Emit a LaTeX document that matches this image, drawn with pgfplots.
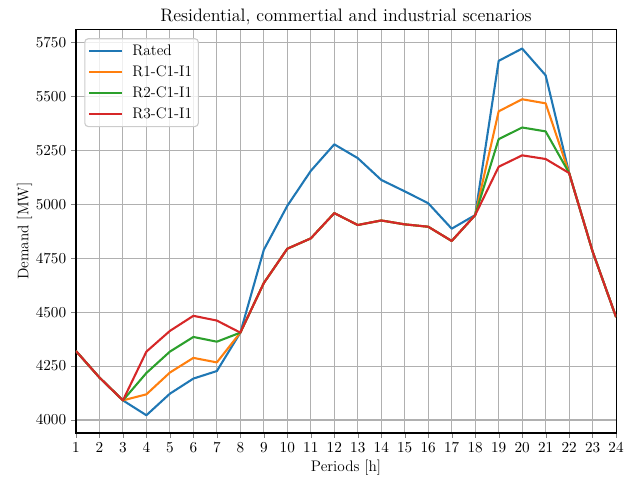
\documentclass[border=0pt]{standalone}
\usepackage{pgfplots}
\pgfplotsset{compat=1.18}
\usetikzlibrary{calc}
\definecolor{tabblue}{HTML}{1F77B4}
\definecolor{taborange}{HTML}{FF7F0E}
\definecolor{tabgreen}{HTML}{2CA02C}
\definecolor{tabred}{HTML}{D62728}
\begin{document}
\begin{tikzpicture}
\begin{axis}[
  name=main,
  scale only axis,
  width=389pt, height=290.5pt,
  xmin=1, xmax=24, ymin=3940, ymax=5810,
  xtick={1,...,24},
  ytick={4000,4250,4500,4750,5000,5250,5500,5750},
  yticklabel style={/pgf/number format/1000 sep={}},
  scaled y ticks=false,
  tick label style={font=\fontsize{11}{13.6}\selectfont},
  tick align=outside, tick pos=left,
  major tick length=3.5pt,
  grid=major,
  grid style={color=black!31, line width=0.8pt},
  axis line style={line width=0.8pt},
  title={Residential, commertial and industrial scenarios},
  every axis title/.style={at={(axis description cs:0.5,1)}, anchor=base, yshift=6pt, font=\fontsize{13}{16}\selectfont},
  xlabel={Periods [h]},
  ylabel={Demand [MW]},
  every axis x label/.style={at={(axis description cs:0.5,0)}, anchor=base, yshift=-27.5pt, font=\fontsize{11}{13.6}\selectfont},
  every axis y label/.style={at={(axis description cs:-0.0882,0.5)}, rotate=90, anchor=base, font=\fontsize{11}{13.6}\selectfont},
  legend style={at={(axis description cs:0.0154,0.9787)}, anchor=north west, draw=black!20, rounded corners=2.5pt, fill=white, fill opacity=0.8, text opacity=1, font=\fontsize{11}{13.6}\selectfont, row sep=1.8pt, inner sep=2.5pt, line width=0.8pt, /tikz/every odd column/.append style={column sep=4.5pt}},
  legend image code/.code={\draw[#1] (0pt,0pt) -- (23.8pt,0pt);},
  legend cell align=left,
  every axis plot/.append style={line width=1.5pt, no marks, line join=round},
]
\addplot[tabblue] coordinates {(1,4320)(2,4197)(3,4091)(4,4022)(5,4122)(6,4192)(7,4227)(8,4405)(9,4789)(10,4993)(11,5155)(12,5278)(13,5214)(14,5113)(15,5060)(16,5005)(17,4887)(18,4950)(19,5665)(20,5722)(21,5598)(22,5145)(23,4781)(24,4477)};
\addlegendentry{Rated}
\addplot[taborange] coordinates {(1,4320)(2,4197)(3,4091)(4,4119)(5,4220)(6,4288)(7,4267)(8,4405)(9,4635)(10,4794)(11,4842)(12,4959)(13,4904)(14,4925)(15,4907)(16,4896)(17,4830)(18,4950)(19,5431)(20,5487)(21,5468)(22,5145)(23,4781)(24,4477)};
\addlegendentry{R1-C1-I1}
\addplot[tabgreen] coordinates {(1,4320)(2,4197)(3,4091)(4,4218)(5,4317)(6,4385)(7,4363)(8,4405)(9,4635)(10,4794)(11,4842)(12,4959)(13,4904)(14,4925)(15,4907)(16,4896)(17,4830)(18,4950)(19,5302)(20,5356)(21,5338)(22,5145)(23,4781)(24,4477)};
\addlegendentry{R2-C1-I1}
\addplot[tabred] coordinates {(1,4320)(2,4197)(3,4091)(4,4317)(5,4413)(6,4483)(7,4461)(8,4405)(9,4635)(10,4794)(11,4842)(12,4959)(13,4904)(14,4925)(15,4907)(16,4896)(17,4830)(18,4950)(19,5174)(20,5227)(21,5210)(22,5145)(23,4781)(24,4477)};
\addlegendentry{R3-C1-I1}
\end{axis}
\pgfresetboundingbox
\path[use as bounding box] ($(main.south west)+(-54.7pt,-33.8pt)$) rectangle ($(main.north east)+(16.5pt,21.3pt)$);
\end{tikzpicture}
\end{document}
